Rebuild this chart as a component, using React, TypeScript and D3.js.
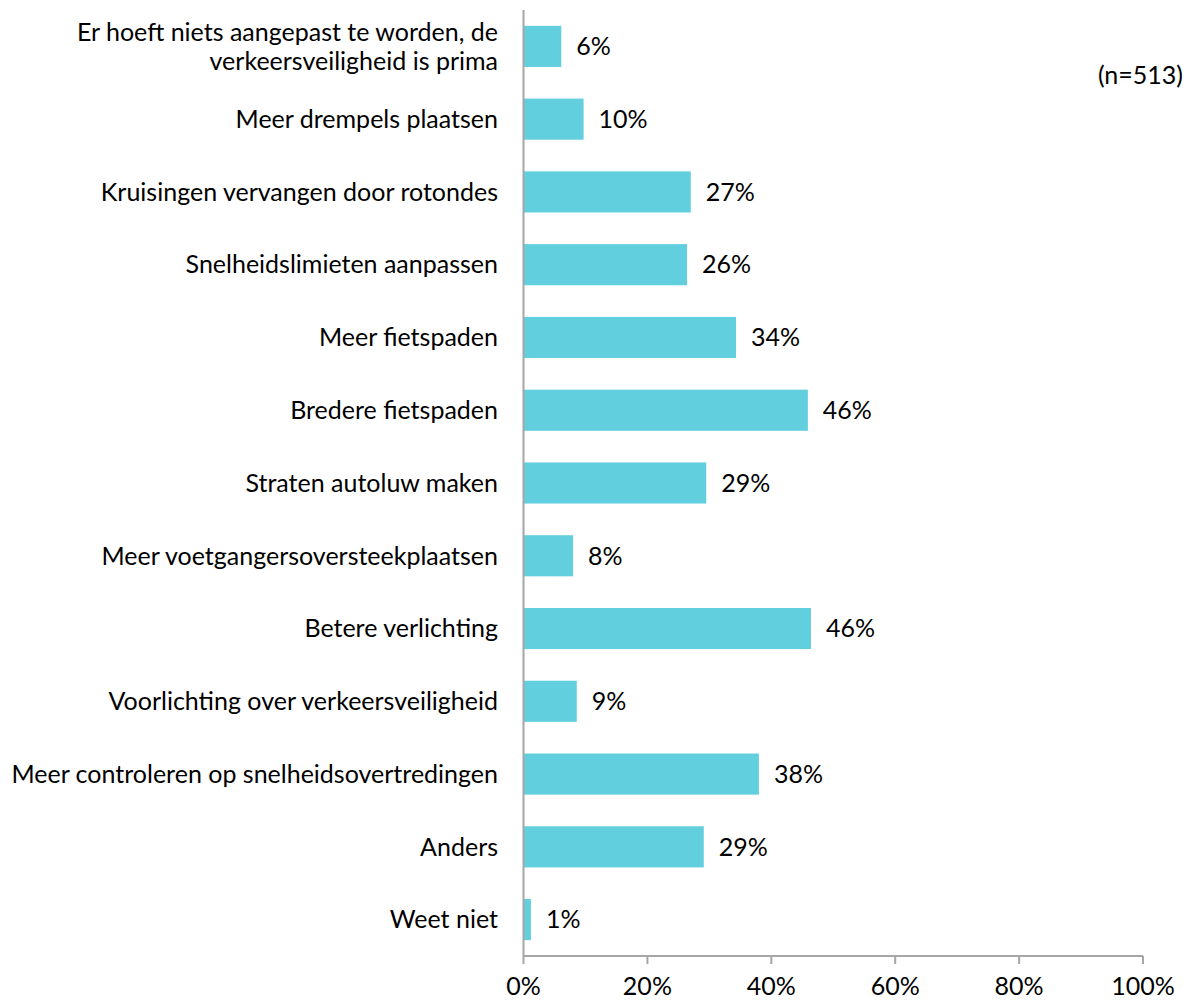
import React from "react";
import * as d3 from "d3";

const categories: string[][] = [
  ["Er hoeft niets aangepast te worden, de", "verkeersveiligheid is prima"],
  ["Meer drempels plaatsen"],
  ["Kruisingen vervangen door rotondes"],
  ["Snelheidslimieten aanpassen"],
  ["Meer fietspaden"],
  ["Bredere fietspaden"],
  ["Straten autoluw maken"],
  ["Meer voetgangersoversteekplaatsen"],
  ["Betere verlichting"],
  ["Voorlichting over verkeersveiligheid"],
  ["Meer controleren op snelheidsovertredingen"],
  ["Anders"],
  ["Weet niet"],
];
const values: number[] = [6.1, 9.7, 27.0, 26.4, 34.3, 45.9, 29.5, 8.0, 46.4, 8.6, 38.0, 29.1, 1.2];
const labels: string[] = ["6%", "10%", "27%", "26%", "34%", "46%", "29%", "8%", "46%", "9%", "38%", "29%", "1%"];
const ticks: number[] = [0, 20, 40, 60, 80, 100];
const note = "(n=513)";

export default function App() {
  const W = 1191, H = 1001;
  const left = 523.5, right = 1143, top = 10, bottom = 956;
  const x = d3.scaleLinear().domain([0, 100]).range([left, right]);
  const y = d3.scaleBand<number>().domain(d3.range(values.length)).range([top, bottom]).paddingInner(0.435).paddingOuter(0.2175);
  const font = "Lato, 'Open Sans', sans-serif";
  const fs = 25;
  const axisColor = "#a6a6a6";
  return (
    <svg width={W} height={H} style={{ position: "absolute", left: 0, top: 0 }} fontFamily={font}>
      <rect width={W} height={H} fill="#fff" />
      {values.map((v, i) => {
        const y0 = y(i)!;
        const bh = y.bandwidth();
        const cy = y0 + bh / 2;
        const lines = categories[i];
        return (
          <g key={i}>
            <rect x={x(0)} y={y0} width={x(v) - x(0)} height={bh} fill="#62CFDE" />
            <text x={x(v) + 15} y={cy} dy="0.35em" fontSize={fs} fill="#000">{labels[i]}</text>
            {lines.map((l, j) => (
              <text key={j} x={498} y={cy + (j - (lines.length - 1) / 2) * 29} dy="0.35em" textAnchor="end" fontSize={fs} fill="#000">{l}</text>
            ))}
          </g>
        );
      })}
      <line x1={left} x2={left} y1={top} y2={bottom} stroke={axisColor} strokeWidth={2} />
      <line x1={left} x2={right} y1={bottom} y2={bottom} stroke={axisColor} strokeWidth={2} />
      {ticks.map((t) => (
        <g key={t}>
          <line x1={x(t)} x2={x(t)} y1={bottom} y2={bottom + 8} stroke={axisColor} strokeWidth={2} />
          <text x={x(t)} y={986} dy="0.35em" textAnchor="middle" fontSize={fs} fill="#000">{t}%</text>
        </g>
      ))}
      <text x={1183} y={75} dy="0.35em" textAnchor="end" fontSize={fs} fill="#000">{note}</text>
    </svg>
  );
}
